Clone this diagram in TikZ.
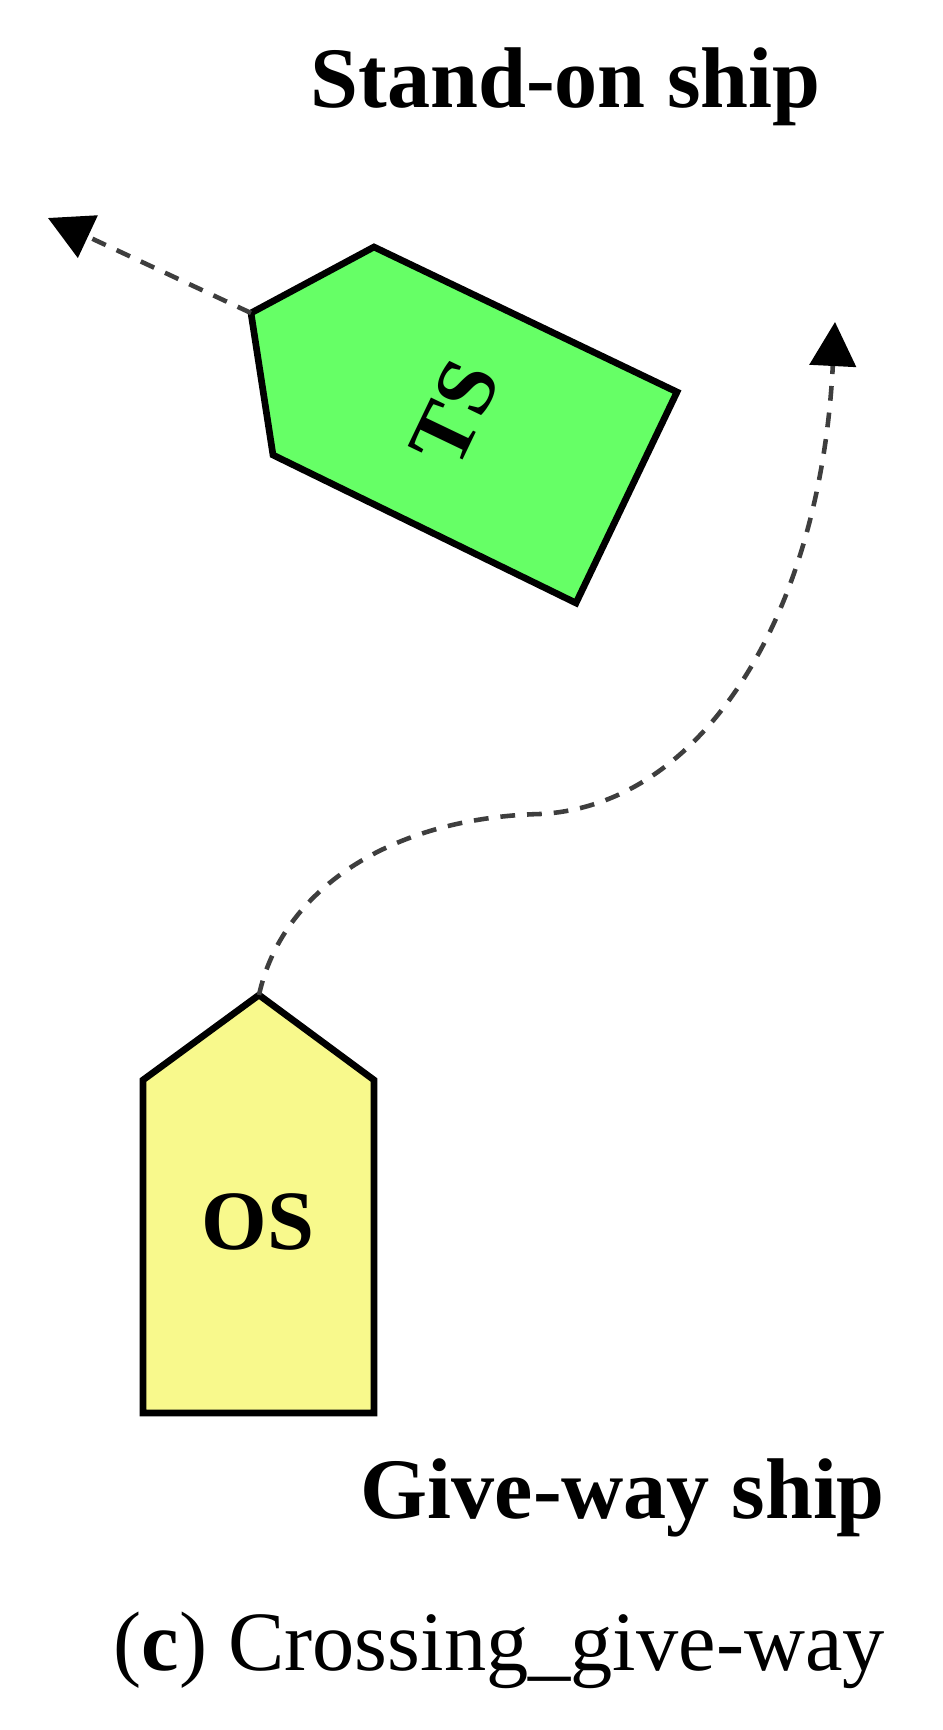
\documentclass[tikz,border=0pt]{standalone}
\usepackage{fontspec}
\setmainfont{Liberation Serif}
\usetikzlibrary{arrows.meta}
\definecolor{tsgreen}{RGB}{102,255,102}
\definecolor{osyellow}{RGB}{248,249,140}
\definecolor{trackgray}{RGB}{62,62,62}

\begin{document}
\begin{tikzpicture}[x=0.01cm, y=-0.01cm,
			hull/.style={draw=black, line width=1.9pt, line join=miter},
			track/.style={draw=trackgray, line width=1.3pt, dash pattern=on 4.2pt off 3.4pt},
			shipname/.style={font=\fontsize{24}{28}\selectfont\bfseries, inner sep=0pt},
			caption/.style={font=\fontsize{24}{28}\selectfont, inner sep=0pt, anchor=base west},
			>={Triangle[length=4.4mm, width=4.6mm, color=black]}]
	\useasboundingbox (0,0) rectangle (942,1730);
	% target ship, heading north-west
	\coordinate (tsbow) at (251,313);
	\coordinate (tsgoal) at (48,218);
	\draw[hull, fill=tsgreen] (tsbow) -- (374,247) -- (677,392) -- (576,603) -- (273,455) -- cycle;
	\node[shipname, rotate=64.4] (ts) at (455,413) {TS};
	% own ship, heading north
	\coordinate (osbow) at (259,995);
	\coordinate (osturn) at (540,814);
	\coordinate (osgoal) at (835,322);
	\draw[hull, fill=osyellow] (osbow) -- (374,1080) -- (374,1413) -- (143,1413) -- (143,1080) -- cycle;
	\node[shipname] (os) at (258,1222) {OS};
	% tracks
	\draw[track, ->] (tsbow) -- (tsgoal);
	\draw[track, ->] (osbow) .. controls (282,890) and (390,818) .. (osturn)
		.. controls (700,806) and (820,620) .. (osgoal);
	% labels
	\node[caption, font=\fontsize{24.5}{28}\selectfont\bfseries] (standon) at (310,107) {Stand-on ship};
	\node[caption, font=\fontsize{24.5}{28}\selectfont\bfseries] (giveway) at (360,1518) {Give-way ship};
	\node[caption] (sub) at (113,1670) {(\textbf{c}) Crossing\_give-way};
\end{tikzpicture}
\end{document}
